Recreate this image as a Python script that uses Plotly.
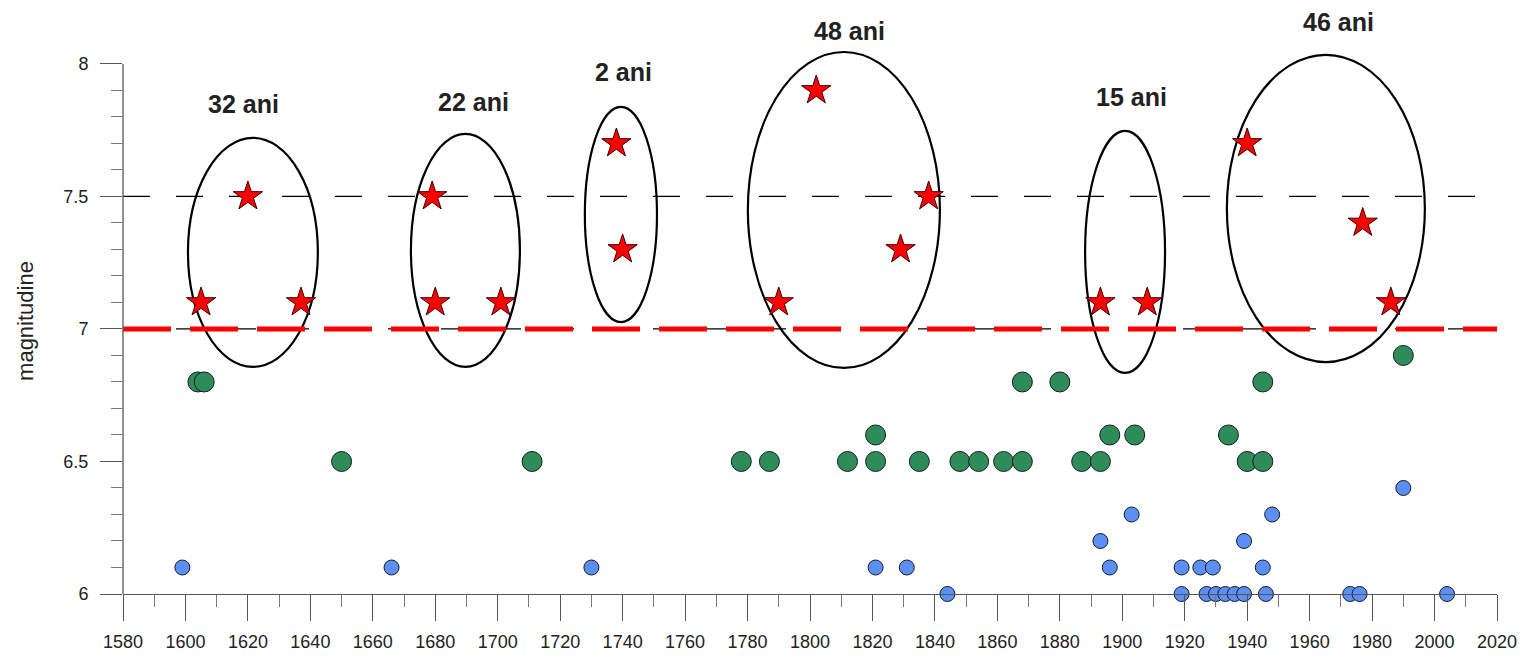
import plotly.graph_objects as go

# ---- data -------------------------------------------------------------
# small events (magnitude 6.0 - 6.4)
blue_years = [1844, 1919, 1927, 1930, 1933, 1936, 1939, 1946, 1973, 1976, 2004,
              1599, 1666, 1730, 1821, 1831, 1896, 1919, 1925, 1929, 1945,
              1893, 1939,
              1903, 1948,
              1990]
blue_mag = [6.0, 6.0, 6.0, 6.0, 6.0, 6.0, 6.0, 6.0, 6.0, 6.0, 6.0,
            6.1, 6.1, 6.1, 6.1, 6.1, 6.1, 6.1, 6.1, 6.1, 6.1,
            6.2, 6.2,
            6.3, 6.3,
            6.4]

# intermediate events (magnitude 6.5 - 6.9)
green_years = [1650, 1711, 1778, 1787, 1812, 1821, 1835, 1848, 1854, 1862,
               1868, 1887, 1893, 1940, 1945,
               1821, 1896, 1904, 1934,
               1604, 1606, 1868, 1880, 1945,
               1990]
green_mag = [6.5, 6.5, 6.5, 6.5, 6.5, 6.5, 6.5, 6.5, 6.5, 6.5,
             6.5, 6.5, 6.5, 6.5, 6.5,
             6.6, 6.6, 6.6, 6.6,
             6.8, 6.8, 6.8, 6.8, 6.8,
             6.9]

# major events (magnitude >= 7.0)
star_years = [1605, 1620, 1637, 1679, 1680, 1701, 1738, 1740, 1790, 1802,
              1829, 1838, 1893, 1908, 1940, 1977, 1986]
star_mag = [7.1, 7.5, 7.1, 7.5, 7.1, 7.1, 7.7, 7.3, 7.1, 7.9,
            7.3, 7.5, 7.1, 7.1, 7.7, 7.4, 7.1]

# clusters of major events and the span they cover
cluster_labels = ["32 ani", "22 ani", "2 ani", "48 ani", "15 ani", "46 ani"]

# axis ticks
x_ticks = list(range(1580, 2021, 20))
y_ticks = [6, 6.5, 7, 7.5, 8]

# ---- layout constants -------------------------------------------------
X_MIN, X_MAX = 1580, 2020
Y_MIN, Y_MAX = 6.0, 8.06

# ellipse bounds around each cluster: (x0, x1, y0, y1)
ellipse_bounds = [
    (1600.8, 1642.4, 6.857, 7.721),
    (1672.2, 1707.1, 6.857, 7.736),
    (1727.9, 1751.0, 7.026, 7.838),
    (1780.1, 1841.6, 6.853, 8.045),
    (1888.1, 1913.7, 6.834, 7.747),
    (1933.5, 1996.9, 6.875, 8.034),
]
# label anchor (centre) for each cluster, in axis units
label_pos = [
    (1618.7, 7.849),
    (1692.4, 7.857),
    (1740.4, 7.970),
    (1812.5, 8.125),
    (1902.8, 7.875),
    (1969.4, 8.158),
]

FONT = "Liberation Sans, Arial, sans-serif"
AXIS_COLOR = "#555555"


def y_to_paper(v):
    return (v - Y_MIN) / (Y_MAX - Y_MIN)


fig = go.Figure()

fig.add_trace(go.Scatter(
    x=blue_years, y=blue_mag, mode="markers",
    marker=dict(symbol="circle", size=15, color="#5B8FF5",
                line=dict(color="#1a1a1a", width=1)),
    cliponaxis=False, showlegend=False, hoverinfo="x+y",
))
fig.add_trace(go.Scatter(
    x=green_years, y=green_mag, mode="markers",
    marker=dict(symbol="circle", size=20, color="#2E8B5A",
                line=dict(color="#1a1a1a", width=1)),
    cliponaxis=False, showlegend=False, hoverinfo="x+y",
))
fig.add_trace(go.Scatter(
    x=star_years, y=star_mag, mode="markers",
    marker=dict(symbol="star", size=22, color="#FF0000",
                line=dict(color="#3a0000", width=1)),
    cliponaxis=False, showlegend=False, hoverinfo="x+y",
))

shapes = []
# ellipses around clusters
for (x0, x1, y0, y1) in ellipse_bounds:
    shapes.append(dict(type="circle", xref="x", yref="y",
                       x0=x0, x1=x1, y0=y0, y1=y1,
                       line=dict(color="black", width=2.2), layer="below"))
# reference thresholds
shapes.append(dict(type="line", xref="x", yref="y", x0=X_MIN, x1=X_MAX,
                   y0=7.5, y1=7.5, layer="below",
                   line=dict(color="black", width=1.3, dash="27px,26px")))
shapes.append(dict(type="line", xref="x", yref="y", x0=X_MIN, x1=X_MAX,
                   y0=7.0, y1=7.0, layer="below",
                   line=dict(color="black", width=1.3, dash="27px,26px")))
shapes.append(dict(type="line", xref="x", yref="y", x0=X_MIN, x1=X_MAX,
                   y0=7.0, y1=7.0, layer="below",
                   line=dict(color="#FF0000", width=5, dash="48px,19px")))
# left axis line, only from 6 to 8
shapes.append(dict(type="line", xref="paper", yref="paper", x0=0, x1=0,
                   y0=0, y1=y_to_paper(8), layer="above",
                   line=dict(color=AXIS_COLOR, width=1.3)))

annotations = []
for text, (ax_, ay_) in zip(cluster_labels, label_pos):
    annotations.append(dict(x=ax_, y=y_to_paper(ay_), xref="x", yref="paper",
                            text=f"<b>{text}</b>",
                            showarrow=False, xanchor="center", yanchor="middle",
                            font=dict(family=FONT, size=25, color="#222222")))

fig.update_layout(
    width=1527, height=659,
    margin=dict(l=123, r=30, t=48, b=65),
    paper_bgcolor="white", plot_bgcolor="white",
    shapes=shapes, annotations=annotations,
    font=dict(family=FONT, size=18, color="#222222"),
    xaxis=dict(
        range=[X_MIN, X_MAX], tickvals=x_ticks, automargin=False,
        showgrid=False, zeroline=False,
        showline=True, linecolor=AXIS_COLOR, linewidth=1.3,
        ticks="outside", ticklen=26, tickwidth=1.3, tickcolor=AXIS_COLOR,
        minor=dict(dtick=10, tick0=1580, ticks="outside", ticklen=12,
                   tickwidth=1.3, tickcolor="#777777", showgrid=False),
        tickfont=dict(family=FONT, size=18, color="#222222"),
        ticklabelstandoff=5,
    ),
    yaxis=dict(
        range=[Y_MIN, Y_MAX], tickvals=y_ticks, automargin=False,
        showgrid=False, zeroline=False, showline=False,
        ticks="outside", ticklen=22, tickwidth=1.3, tickcolor=AXIS_COLOR,
        minor=dict(dtick=0.1, tick0=6, ticks="outside", ticklen=11,
                   tickwidth=1.3, tickcolor="#777777", showgrid=False),
        tickfont=dict(family=FONT, size=18, color="#222222"),
        ticklabelstandoff=8,
        title=dict(text="magnitudine", font=dict(family=FONT, size=22, color="#222222"),
                   standoff=23),
    ),
)

fig.write_html("out.html")
